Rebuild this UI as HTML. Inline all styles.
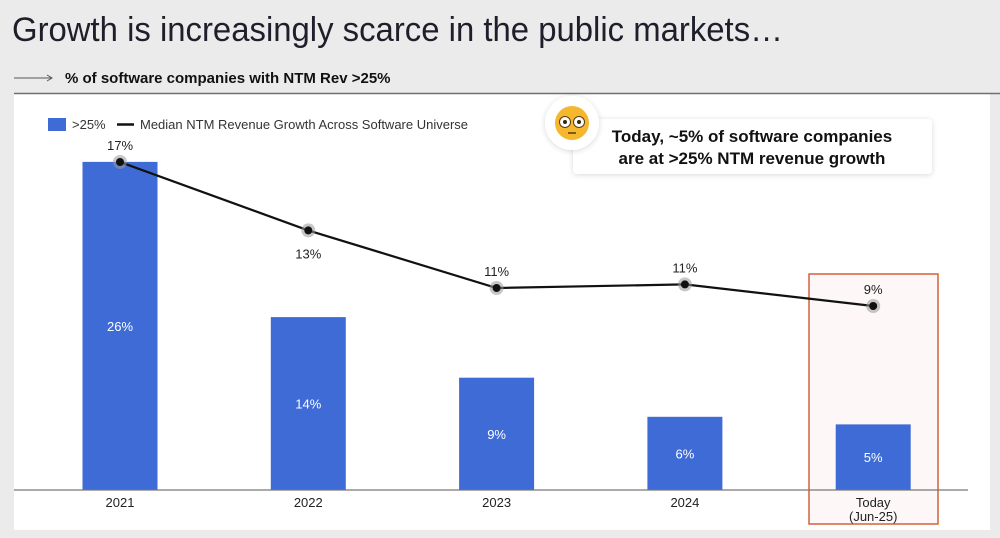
<!DOCTYPE html>
<html><head><meta charset="utf-8"><style>
html,body{margin:0;padding:0;background:#ebebeb;}
svg{display:block;font-family:"Liberation Sans",Arial,sans-serif;}
</style></head><body>
<svg id="chart" width="1000" height="538" viewBox="0 0 1000 538">
<defs>
<filter id="sh" x="-10%" y="-30%" width="120%" height="160%"><feDropShadow dx="0" dy="1" stdDeviation="3" flood-color="#000" flood-opacity="0.15"/></filter>
</defs>
<rect x="0" y="0" width="1000" height="538" fill="#ebebeb"/>
<text x="12" y="41" font-size="34" fill="#1f1f2b" textLength="771" lengthAdjust="spacingAndGlyphs">Growth is increasingly scarce in the public markets…</text>
<g><line x1="14" y1="78" x2="51" y2="78" stroke="#555" stroke-width="1"/><path d="M47,75 L52,78 L47,81" fill="none" stroke="#555" stroke-width="1"/></g>
<text x="65" y="83" font-size="15" font-weight="bold" fill="#111">% of software companies with NTM Rev &gt;25%</text>
<rect x="14" y="94" width="976" height="436" fill="#fff"/>
<line x1="14" y1="93.5" x2="1000" y2="93.5" stroke="#707070" stroke-width="1.5"/>
<rect x="809" y="274" width="129" height="250" fill="#fdf8f7" stroke="#d4603c" stroke-width="1.5"/>
<g id="bars"></g>
<line x1="14" y1="490" x2="968" y2="490" stroke="#777" stroke-width="1.2"/>
<g id="line"></g>
<g id="xlabels"></g>
<g>
<rect x="48" y="118" width="18" height="13" fill="#3f6bd6"/>
<text x="72" y="129" font-size="13" fill="#333">&gt;25%</text>
<line x1="117" y1="124.5" x2="134" y2="124.5" stroke="#111" stroke-width="2.5"/>
<text x="140" y="129" font-size="13" fill="#333">Median NTM Revenue Growth Across Software Universe</text>
</g>
<g>
<rect x="573" y="119" width="359" height="55" rx="4" fill="#fff" filter="url(#sh)"/>
<text x="752" y="142" font-size="17" font-weight="bold" text-anchor="middle" fill="#111">Today, ~5% of software companies</text>
<text x="752" y="164" font-size="17" font-weight="bold" text-anchor="middle" fill="#111">are at &gt;25% NTM revenue growth</text>
<g>
<circle cx="572" cy="123" r="27" fill="#fff" filter="url(#sh)"/>
<circle cx="572" cy="123" r="17" fill="#f5b72e"/>
<circle cx="565" cy="122" r="5.5" fill="#fff" stroke="#5a3a10" stroke-width="1"/>
<circle cx="579" cy="122" r="5.5" fill="#fff" stroke="#5a3a10" stroke-width="1"/>
<circle cx="565" cy="122" r="2" fill="#3a2510"/>
<circle cx="579" cy="122" r="2" fill="#3a2510"/>
<line x1="568" y1="133" x2="576" y2="133" stroke="#5a3a10" stroke-width="1.5"/>
</g>
</g>
</svg>
<script>
const categories = ["2021","2022","2023","2024","Today"];
const barValues = [26, 13.7, 8.9, 5.8, 5.2];
const barLabels = ["26%","14%","9%","6%","5%"];
const lineValues = [17.0, 13.2, 10.0, 10.2, 9.0];
const lineLabels = ["17%","13%","11%","11%","9%"];
const NS = "http://www.w3.org/2000/svg";
function xC(i){ return 120 + i*188.3; }
function yBar(v){ return 490 - v*12.62; }
function yLine(v){ return 162 + (17 - v)*18; }
function mk(tag, attrs, parent){ const e=document.createElementNS(NS,tag); for(const k in attrs) e.setAttribute(k,attrs[k]); parent.appendChild(e); return e; }
const gb=document.getElementById('bars'), gl=document.getElementById('line'), gx=document.getElementById('xlabels');
barValues.forEach((v,i)=>{
  const r=mk('rect',{x:xC(i)-37.5,y:yBar(v),width:75,height:490-yBar(v),fill:'#3f6bd6'},gb);
  
  
  const t=mk('text',{x:xC(i),y:(yBar(v)+490)/2+5,'font-size':13,fill:'#fff','text-anchor':'middle'},gb);
  t.textContent=barLabels[i];
  
  
  const xl=mk('text',{x:xC(i),y:507,'font-size':13,fill:'#222','text-anchor':'middle'},gx);
  xl.textContent=categories[i];
  
  
});
const sub=mk('text',{x:xC(4),y:521,'font-size':13,fill:'#222','text-anchor':'middle'},gx);
sub.textContent='(Jun-25)';


const pts=lineValues.map((v,i)=>xC(i)+','+yLine(v)).join(' ');
const pl=mk('polyline',{points:pts,fill:'none',stroke:'#111','stroke-width':2.2},gl);


lineValues.forEach((v,i)=>{
  const h=mk('circle',{cx:xC(i),cy:yLine(v),r:7,fill:'#999','fill-opacity':0.55},gl);
  
  
  const c=mk('circle',{cx:xC(i),cy:yLine(v),r:4,fill:'#111'},gl);
  
  
  const below = i===1;
  const t=mk('text',{x:xC(i),y:below?yLine(v)+28:yLine(v)-12,'font-size':13,fill:'#222','text-anchor':'middle'},gl);
  t.textContent=lineLabels[i];
  
  
});
</script>
</body></html>
